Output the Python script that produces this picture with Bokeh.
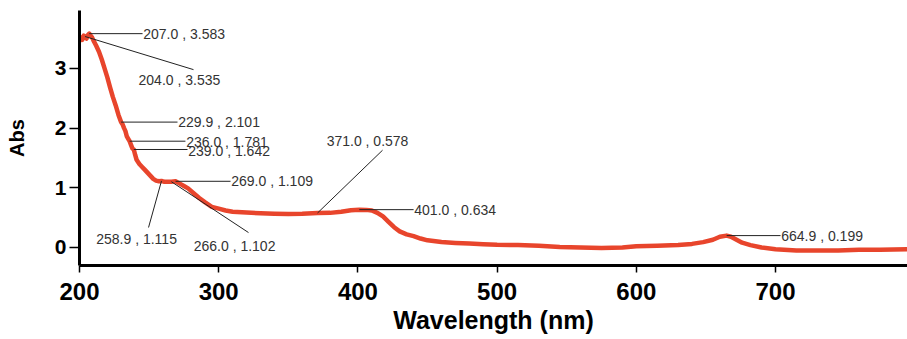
from bokeh.plotting import figure
from bokeh.models import ColumnDataSource, Range1d, FixedTicker
from bokeh.embed import file_html
from bokeh.resources import INLINE
from bokeh.core.properties import value

# ---- spectrum data ----
wavelength = [200, 201, 202, 203, 204, 205, 206, 207, 208, 209, 210, 212, 214, 216, 218,
              220, 222, 224, 226, 228, 229.9, 231, 232, 233, 234, 235, 236, 237, 238, 239,
              240, 241, 243, 245, 247, 249, 251, 253, 255, 257, 258.9, 261, 263, 266, 269,
              272, 275, 278, 282, 286, 290, 295, 300, 305, 310, 320, 330, 340, 350, 360,
              371, 380, 388, 395, 401, 406, 410, 414, 418, 422, 426, 430, 435, 440, 445,
              450, 460, 470, 480, 490, 500, 515, 530, 545, 560, 575, 590, 600, 615, 630,
              640, 648, 655, 660, 664.9, 668, 672, 676, 682, 690, 700, 715, 730, 745, 760,
              775, 795]
absorbance = [3.45, 3.52, 3.48, 3.55, 3.535, 3.50, 3.56, 3.583, 3.55, 3.52, 3.47, 3.38, 3.28, 3.15, 3.00,
              2.85, 2.68, 2.52, 2.38, 2.22, 2.101, 2.06, 2.00, 1.95, 1.86, 1.82, 1.781, 1.72, 1.66, 1.642,
              1.55, 1.47, 1.40, 1.35, 1.30, 1.25, 1.20, 1.15, 1.12, 1.11, 1.115, 1.10, 1.10, 1.102, 1.109,
              1.07, 1.03, 0.99, 0.91, 0.83, 0.76, 0.68, 0.65, 0.62, 0.60, 0.585, 0.575, 0.565, 0.56, 0.565,
              0.578, 0.58, 0.60, 0.625, 0.634, 0.63, 0.62, 0.58, 0.52, 0.43, 0.34, 0.27, 0.22, 0.19, 0.15,
              0.12, 0.09, 0.075, 0.065, 0.055, 0.045, 0.04, 0.03, 0.01, 0.00, -0.01, 0.00, 0.02, 0.03, 0.04,
              0.06, 0.09, 0.13, 0.18, 0.199, 0.18, 0.13, 0.08, 0.04, 0.00, -0.03, -0.05, -0.05, -0.05, -0.04,
              -0.04, -0.03]

# ---- peak annotations ----
peak_wl = [207.0, 204.0, 229.9, 236.0, 239.0, 269.0, 258.9, 266.0, 371.0, 401.0, 664.9]
peak_abs = [3.583, 3.535, 2.101, 1.781, 1.642, 1.109, 1.115, 1.102, 0.578, 0.634, 0.199]
peak_labels = ["207.0 , 3.583", "204.0 , 3.535", "229.9 , 2.101", "236.0 , 1.781",
               "239.0 , 1.642", "269.0 , 1.109", "258.9 , 1.115", "266.0 , 1.102",
               "371.0 , 0.578", "401.0 , 0.634", "664.9 , 0.199"]

# leader-line ends and label anchors (data units)
leader_end_x = [245.3, 281.9, 270.4, 276.1, 277.6, 308.5, 249.6, 321.4, 417.7, 440.0, 703.6]
leader_end_y = [3.583, 2.98, 2.101, 1.781, 1.642, 1.109, 0.335, 0.25, 1.63, 0.634, 0.199]
label_x = [245.8, 242.4, 270.9, 276.6, 278.1, 309.0, 241.0, 311.4, 406.9, 440.5, 704.1]
label_y = [3.583, 2.80, 2.101, 1.775, 1.61, 1.109, 0.15, 0.03, 1.78, 0.634, 0.19]
label_align = ["left", "left", "left", "left", "left", "left", "center", "center",
               "center", "left", "left"]

x_ticks = [200, 300, 400, 500, 600, 700]
y_ticks = [0, 1, 2, 3]

p = figure(width=907, height=339, output_backend="svg", toolbar_location=None,
           x_range=Range1d(200, 794.8), y_range=Range1d(-0.302, 3.971),
           min_border_left=79, min_border_right=0, min_border_top=10, min_border_bottom=74)
p.outline_line_color = None
p.xgrid.visible = False
p.ygrid.visible = False
p.background_fill_color = "white"
p.border_fill_color = "white"

spec = ColumnDataSource(dict(x=wavelength, y=absorbance))
p.line("x", "y", source=spec, line_color="#e8452c", line_width=4.5, line_join="round")

ann = ColumnDataSource(dict(x0=peak_wl, y0=peak_abs, x1=leader_end_x, y1=leader_end_y,
                            lx=label_x, ly=label_y, text=peak_labels, align=label_align))
p.segment("x0", "y0", "x1", "y1", source=ann, line_color="#222222", line_width=1)
p.text("lx", "ly", text="text", source=ann, text_align="align", text_baseline="middle",
       text_font=value("Liberation Sans"), text_font_size="14px", text_color="#333333")

for ax in (p.xaxis[0], p.yaxis[0]):
    ax.axis_line_width = 3
    ax.axis_line_color = "black"
    ax.major_tick_line_color = "black"
    ax.major_tick_line_width = 1.5
    ax.major_tick_in = 0
    ax.minor_tick_line_color = None
    ax.major_label_text_font = "Liberation Sans"
    ax.major_label_text_font_style = "bold"
    ax.major_label_text_color = "black"
    ax.axis_label_text_font = "Liberation Sans"
    ax.axis_label_text_font_style = "bold"
    ax.axis_label_text_color = "black"

p.xaxis.ticker = FixedTicker(ticks=x_ticks)
p.yaxis.ticker = FixedTicker(ticks=y_ticks)
p.xaxis.axis_label = "Wavelength (nm)"
p.yaxis.axis_label = "Abs"
p.xaxis.major_label_text_font_size = "24px"
p.yaxis.major_label_text_font_size = "21px"
p.xaxis.axis_label_text_font_size = "25px"
p.yaxis.axis_label_text_font_size = "20px"
p.xaxis.major_tick_out = 7
p.yaxis.major_tick_out = 10
p.xaxis.major_label_standoff = 10
p.yaxis.major_label_standoff = 3
p.xaxis.axis_label_standoff = 3
p.yaxis.axis_label_standoff = 24

open("out.html", "w").write(file_html(p, INLINE))
